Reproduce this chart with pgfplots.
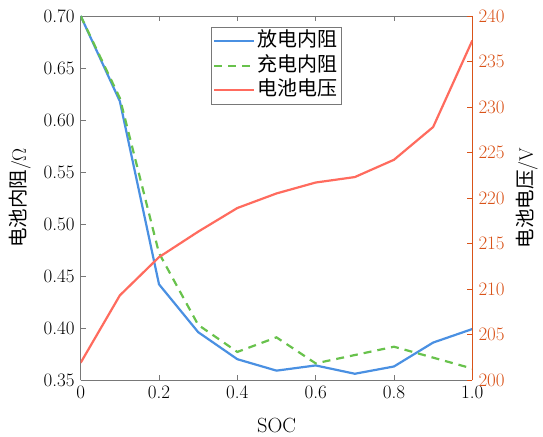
\documentclass[border=0pt]{standalone}
\usepackage{fontspec}
\setmainfont{Latin Modern Roman}
\newfontfamily\cjk{Noto Sans CJK SC}
\usepackage{pgfplots}
\pgfplotsset{compat=1.18}
\usetikzlibrary{calc}
\definecolor{cblue}{RGB}{74,144,226}
\definecolor{cgreen}{RGB}{104,194,76}
\definecolor{cred}{RGB}{255,107,94}
\definecolor{corange}{RGB}{217,83,25}
\definecolor{axgray}{RGB}{120,120,120}
\begin{document}
\fontsize{18bp}{21bp}\selectfont
\begin{tikzpicture}
\begin{axis}[
  scale only axis, width=391.6bp, height=364bp,
  xmin=0, xmax=1, ymin=0.35, ymax=0.70,
  axis y line*=left,
  xtick={0,0.2,0.4,0.6,0.8,1.0},
  xticklabels={0,0.2,0.4,0.6,0.8,1.0},
  ytick={0.35,0.40,0.45,0.50,0.55,0.60,0.65,0.70},
  yticklabels={0.35,0.40,0.45,0.50,0.55,0.60,0.65,0.70},
  tick align=inside, major tick length=5bp,
  ytick pos=left,
  axis line style={axgray, line width=0.6bp},
  tick style={axgray, line width=0.6bp},
  ticklabel style={font=\fontsize{19bp}{21bp}\selectfont, text=black},
  /pgf/number format/assume math mode=true,
  xlabel={SOC},
  xlabel style={font=\fontsize{20.5bp}{24bp}\selectfont, text=black, at={(axis description cs:0.5,-0.124)}, anchor=center},
  ylabel={{\cjk 电池内阻}/Ω},
  ylabel style={font=\fontsize{19.5bp}{22bp}\selectfont, text=black, at={(axis description cs:-0.155,0.5)}, anchor=center},
  legend style={at={(0.333,0.971)}, anchor=north west, draw=axgray, line width=0.6bp, fill=white,
    font=\fontsize{20bp}{22bp}\selectfont\cjk, text=black, cells={anchor=west}, inner sep=2bp,
    nodes={inner sep=2bp, text height=16bp, text depth=4.5bp}},
  legend image code/.code={\draw[#1] (0bp,0bp) -- (40bp,0bp);},
]
\addplot[cblue, line width=2.2bp] coordinates {
 (0,0.700)(0.1,0.618)(0.2,0.442)(0.3,0.396)(0.4,0.370)(0.5,0.359)(0.6,0.364)(0.7,0.356)(0.8,0.363)(0.9,0.386)(1.0,0.399)};
\addlegendentry{放电内阻}
\addplot[cgreen, line width=2.2bp, dash pattern=on 8bp off 6bp] coordinates {
 (0,0.700)(0.1,0.621)(0.2,0.472)(0.3,0.403)(0.4,0.377)(0.5,0.391)(0.6,0.366)(0.7,0.374)(0.8,0.382)(0.9,0.3715)(1.0,0.361)};
\addlegendentry{充电内阻}
\addlegendimage{cred, line width=2.2bp}
\addlegendentry{电池电压}
\end{axis}
\begin{axis}[
  scale only axis, width=391.6bp, height=364bp,
  xmin=0, xmax=1, ymin=200, ymax=240,
  axis y line*=right, axis x line=none,
  ytick={200,205,210,215,220,225,230,235,240},
  tick align=inside, major tick length=5bp,
  y axis line style={corange, line width=0.6bp},
  ytick style={corange, line width=0.6bp},
  yticklabel style={font=\fontsize{19bp}{21bp}\selectfont, text=corange},
  /pgf/number format/assume math mode=true,
  ylabel={{\cjk 电池电压}/V},
  ylabel style={font=\fontsize{19.5bp}{22bp}\selectfont, text=black, at={(axis description cs:1.140,0.5)}, anchor=center},
]
\addplot[cred, line width=2.2bp] coordinates {
 (0,201.9)(0.1,209.3)(0.2,213.5)(0.3,216.3)(0.4,218.9)(0.5,220.5)(0.6,221.7)(0.7,222.3)(0.8,224.2)(0.9,227.8)(1.0,237.3)};
\end{axis}
\pgfresetboundingbox
\path ($(current axis.south west)+(-80.7bp,-57bp)$) rectangle ($(current axis.north east)+(70.7bp,16bp)$);
\end{tikzpicture}
\end{document}
